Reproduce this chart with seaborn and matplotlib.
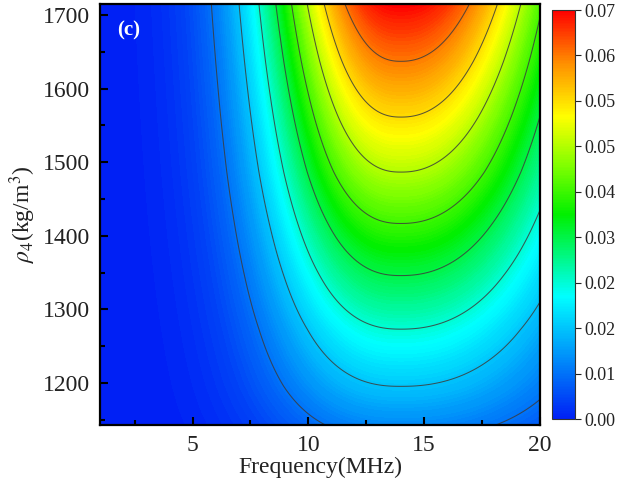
import numpy as np
import matplotlib
matplotlib.use("Agg")
import matplotlib.pyplot as plt
from matplotlib.colors import LinearSegmentedColormap, Normalize
from matplotlib.cm import ScalarMappable
from matplotlib.ticker import MultipleLocator, FormatStrFormatter
import seaborn as sns

# Axis extents
freq_range = [1.0, 20.0]            # MHz
density_range = [1143.0, 1715.0]    # kg/m^3

# Peak amplitude along the ridge (f ~ 14 MHz) at several densities
ridge_density = [1143, 1196, 1273, 1346, 1417, 1487, 1561, 1637, 1715]
ridge_peak = [0.0099, 0.0156, 0.0233, 0.0311, 0.0389, 0.0467, 0.0544, 0.0622, 0.0700]
ridge_freq = 14.0

# Spectral shape on each side of the ridge: (width in MHz, exponent)
low_side = (5.9, 2.4)
high_side = (7.8, 2.2)

# Colour scale
cbar_max = 0.07
cbar_steps = 9
cmap_stops = [(0.00, "#0020f5"), (0.30, "#00ffff"), (0.50, "#00f000"),
              (0.62, "#80ff00"), (0.74, "#ffff00"), (0.87, "#ff9000"),
              (1.00, "#ff0000")]

sns.set_theme(style="ticks")
plt.rcParams["font.family"] = ["Liberation Serif", "DejaVu Serif"]
plt.rcParams["mathtext.fontset"] = "stix"

# Amplitude surface
f = np.linspace(freq_range[0], freq_range[1], 500)
rho = np.linspace(density_range[0], density_range[1], 400)
F, R = np.meshgrid(f, rho)
peak = np.interp(R, ridge_density, ridge_peak)
d = F - ridge_freq
width = np.where(d < 0, low_side[0], high_side[0])
power = np.where(d < 0, low_side[1], high_side[1])
Z = peak * np.exp(-np.abs(d / width) ** power)
Z = np.clip(Z, 0, cbar_max)

cmap = LinearSegmentedColormap.from_list("spectrum", cmap_stops)
norm = Normalize(0, cbar_max)

fig = plt.figure(figsize=(6.21, 4.88), dpi=100)
ax = fig.add_axes([0.161, 0.129, 0.7085, 0.8627])
ax.set_axisbelow(False)

fill_levels = np.linspace(0, cbar_max, 141)
ax.contourf(F, R, Z, levels=fill_levels, cmap=cmap, norm=norm)
line_levels = np.linspace(0, cbar_max, cbar_steps + 1)[1:-1]
ax.contour(F, R, Z, levels=line_levels, colors="#3c3c3c", linewidths=0.75, alpha=0.85)

ax.set_xlim(freq_range)
ax.set_ylim(density_range)
ax.xaxis.set_major_locator(MultipleLocator(5))
ax.xaxis.set_minor_locator(MultipleLocator(2.5))
ax.yaxis.set_major_locator(MultipleLocator(100))
ax.yaxis.set_minor_locator(MultipleLocator(50))
ax.tick_params(which="both", direction="in", width=1.5, colors="black",
               labelsize=17, top=False, right=False)
ax.tick_params(which="major", length=6, pad=7)
ax.tick_params(which="minor", length=3.5)
for s in ax.spines.values():
    s.set_linewidth(1.6)
    s.set_color("black")
    s.set_zorder(5)

ax.set_xlabel("Frequency(MHz)", fontsize=17, labelpad=1, color="#222222")
ax.set_ylabel(r"$\rho_4$(kg/m$^3$)", fontsize=17, color="#222222")
ax.yaxis.set_label_coords(-0.14, 0.5)
for lab in ax.get_xticklabels() + ax.get_yticklabels():
    lab.set_color("#222222")

ax.text(0.038, 0.962, "(c)", transform=ax.transAxes, color="white",
        fontweight="bold", fontsize=15, ha="left", va="top")

# Colour bar
cax = fig.add_axes([0.889, 0.141, 0.037, 0.8385])
sm = ScalarMappable(norm=norm, cmap=cmap)
cb = fig.colorbar(sm, cax=cax, ticks=np.linspace(0, cbar_max, cbar_steps + 1))
cb.ax.yaxis.set_major_formatter(FormatStrFormatter("%.2f"))
cb.ax.tick_params(direction="out", length=4, width=0.8, labelsize=13,
                  colors="#222222", pad=3)
cb.outline.set_linewidth(0.8)
cb.outline.set_edgecolor("#333333")

fig.savefig("out.png", dpi=100)
